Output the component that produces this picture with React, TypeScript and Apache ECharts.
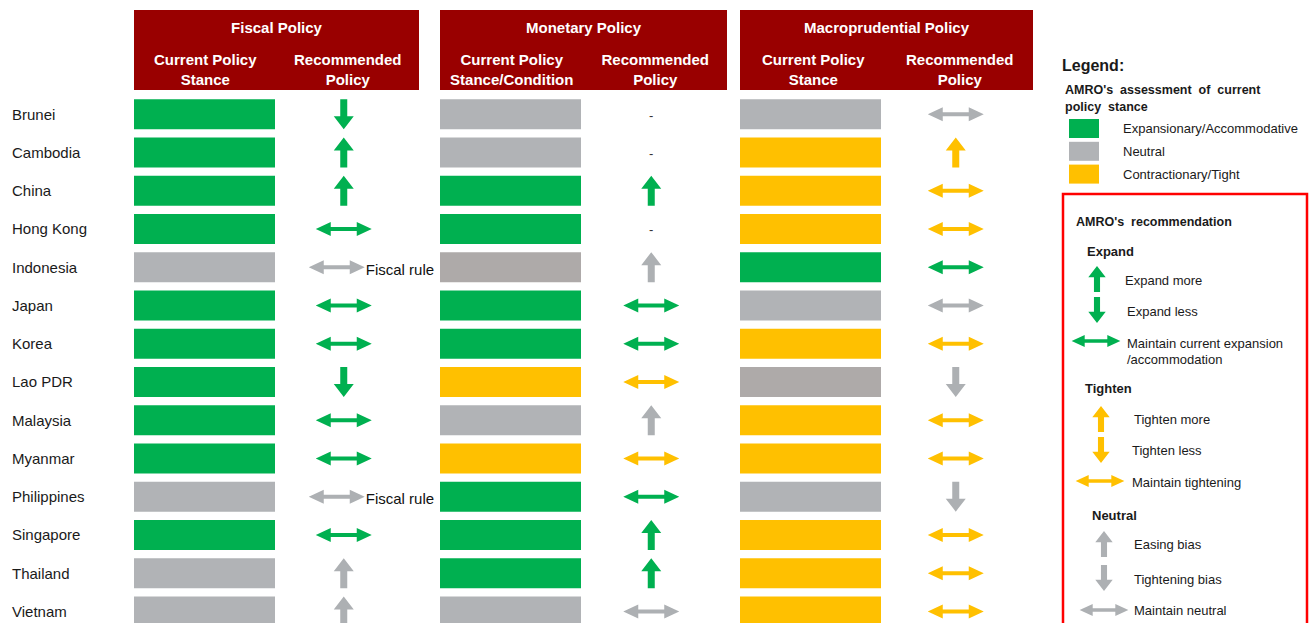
import React, { useEffect, useRef } from 'react';
import * as echarts from 'echarts';

const countries = ['Brunei', 'Cambodia', 'China', 'Hong Kong', 'Indonesia', 'Japan', 'Korea', 'Lao PDR', 'Malaysia', 'Myanmar', 'Philippines', 'Singapore', 'Thailand', 'Vietnam'];

// Stance codes: E = expansionary/accommodative, N = neutral, B = neutral (darker shade), T = contractionary/tight
const fiscalStance = ['E', 'E', 'E', 'E', 'N', 'E', 'E', 'E', 'E', 'E', 'N', 'E', 'N', 'N'];
const monetaryStance = ['N', 'N', 'E', 'E', 'B', 'E', 'E', 'T', 'N', 'T', 'E', 'E', 'E', 'N'];
const macroStance = ['N', 'T', 'T', 'T', 'E', 'N', 'T', 'B', 'T', 'T', 'N', 'T', 'T', 'T'];

// Recommendation codes: first letter = family (E expand, T tighten, N neutral), second: + up, - down, = maintain; '-' = none
const fiscalRec = ['E-', 'E+', 'E+', 'E=', 'N=', 'E=', 'E=', 'E-', 'E=', 'E=', 'N=', 'E=', 'N+', 'N+'];
const fiscalNote = ['', '', '', '', 'Fiscal rule', '', '', '', '', '', 'Fiscal rule', '', '', ''];
const monetaryRec = ['-', '-', 'E+', '-', 'N+', 'E=', 'E=', 'T=', 'N+', 'T=', 'E=', 'E+', 'E+', 'N='];
const macroRec = ['N=', 'T+', 'T=', 'T=', 'E=', 'N=', 'T=', 'N-', 'T=', 'T=', 'N-', 'T=', 'T=', 'T='];

const policyGroups = ['Fiscal Policy', 'Monetary Policy', 'Macroprudential Policy'];
const columnHeaders = [
  ['Current Policy\nStance', 'Recommended\nPolicy'],
  ['Current Policy\nStance/Condition', 'Recommended\nPolicy'],
  ['Current Policy\nStance', 'Recommended\nPolicy'],
];

const stanceLegend = [
  ['E', 'Expansionary/Accommodative'],
  ['N', 'Neutral'],
  ['T', 'Contractionary/Tight'],
];
const recLegendGroups = [
  { title: 'Expand', key: 'E', items: [['+', 'Expand more'], ['-', 'Expand less'], ['=', 'Maintain current expansion\n/accommodation']] },
  { title: 'Tighten', key: 'T', items: [['+', 'Tighten more'], ['-', 'Tighten less'], ['=', 'Maintain tightening']] },
  { title: 'Neutral', key: 'N', items: [['+', 'Easing bias'], ['-', 'Tightening bias'], ['=', 'Maintain neutral']] },
];

const FONT = '"Liberation Sans", Arial, sans-serif';
const HEADER_RED = '#990000';
const STANCE_COLORS: Record<string, string> = { E: '#00b050', N: '#b1b3b6', B: '#aeaaa9', T: '#ffc000' };
const ARROW_COLORS: Record<string, string> = { E: '#00b050', N: '#adb0b3', T: '#ffc000' };

const GRID_TOP = 95;
const ROW_H = 38.25;
const GRIDS = [
  { left: 134, width: 285 },
  { left: 440, width: 287 },
  { left: 740, width: 293 },
];

function arrowPoints(dir: string, cx: number, cy: number, s = 1): number[][] {
  if (dir === '=') {
    const L = 28 * s, hl = 15 * s, hw = 7 * s, st = 2 * s;
    return [
      [cx - L, cy], [cx - L + hl, cy - hw], [cx - L + hl, cy - st], [cx + L - hl, cy - st],
      [cx + L - hl, cy - hw], [cx + L, cy], [cx + L - hl, cy + hw], [cx + L - hl, cy + st],
      [cx - L + hl, cy + st], [cx - L + hl, cy + hw],
    ];
  }
  const H = 15 * s, hh = 13 * s, w = 10 * s, sw = 3.5 * s;
  const sgn = dir === '+' ? 1 : -1;
  const tip = cy - sgn * H;
  const base = cy + sgn * H;
  const neck = tip + sgn * hh;
  return [[cx, tip], [cx + w, neck], [cx + sw, neck], [cx + sw, base], [cx - sw, base], [cx - sw, neck], [cx - w, neck]];
}

function stanceSeries(gridIdx: number, stance: string[]) {
  return {
    type: 'custom',
    xAxisIndex: gridIdx,
    yAxisIndex: gridIdx,
    data: stance.map((_, i) => [0, i]),
    renderItem: (params: any, api: any) => {
      const c = api.coord([api.value(0), api.value(1)]);
      const sz = api.size([1, 1]);
      return {
        type: 'rect',
        shape: { x: c[0] - sz[0] / 2, y: c[1] - 15, width: 141, height: 30 },
        style: { fill: STANCE_COLORS[stance[params.dataIndex]] },
      };
    },
  };
}

function recSeries(gridIdx: number, rec: string[], notes?: string[]) {
  return {
    type: 'custom',
    xAxisIndex: gridIdx,
    yAxisIndex: gridIdx,
    data: rec.map((_, i) => [1, i]),
    renderItem: (params: any, api: any) => {
      const c = api.coord([api.value(0), api.value(1)]);
      const code = rec[params.dataIndex];
      const note = notes ? notes[params.dataIndex] : '';
      if (code === '-') {
        return {
          type: 'text',
          x: c[0] - 4,
          y: c[1] + 1,
          style: { text: '-', fill: '#333', fontSize: 13, fontFamily: FONT, align: 'center', verticalAlign: 'middle', textAlign: 'center', textVerticalAlign: 'middle' },
        };
      }
      const cx = c[0] - 4 - (note ? 7 : 0);
      const children: any[] = [
        { type: 'polygon', shape: { points: arrowPoints(code[1], cx, c[1]) }, style: { fill: ARROW_COLORS[code[0]] } },
      ];
      if (note) {
        children.push({
          type: 'text',
          x: cx + 29,
          y: c[1] + 2,
          style: { text: note, fill: '#111', fontSize: 15, fontFamily: FONT, align: 'left', verticalAlign: 'middle', textAlign: 'left', textVerticalAlign: 'middle' },
        });
      }
      return { type: 'group', children };
    },
  };
}

function txt(x: number, y: number, text: string, size: number, bold = false, fill = '#1a1a1a', align = 'left', lineHeight?: number): any {
  return {
    type: 'text',
    x,
    y,
    z: 20,
    style: {
      text,
      fill,
      fontSize: size,
      fontWeight: bold ? 'bold' : 'normal',
      fontFamily: FONT,
      lineHeight: lineHeight || size * 1.2,
      align,
      verticalAlign: 'middle',
      textAlign: align,
      textVerticalAlign: 'middle',
    },
  };
}

function buildGraphic() {
  const els: any[] = [];
  GRIDS.forEach((g, i) => {
    els.push({ type: 'rect', z: -10, shape: { x: g.left, y: 10, width: g.width, height: 80 }, style: { fill: HEADER_RED } });
    els.push(txt(g.left + g.width / 2, 27, policyGroups[i], 15, true, '#ffffff', 'center'));
  });

  // Legend
  els.push(txt(1062, 65, 'Legend:', 16, true));
  els.push(txt(1065, 90, "AMRO's  assessment  of  current", 12.5, true));
  els.push(txt(1065, 107, 'policy  stance', 12.5, true));
  stanceLegend.forEach(([k, label], i) => {
    const y = 119 + i * 22.8;
    els.push({ type: 'rect', shape: { x: 1069, y, width: 30, height: 19 }, style: { fill: STANCE_COLORS[k] } });
    els.push(txt(1123, y + 9.5, label, 13));
  });

  els.push({ type: 'rect', shape: { x: 1063, y: 194, width: 244, height: 460 }, style: { fill: 'none', stroke: '#ff0000', lineWidth: 2.5 } });
  els.push(txt(1076, 222, "AMRO's  recommendation", 12.5, true));

  const layout = [
    { title: [1087, 251], arrows: [[1097, 279], [1097, 310], [1096, 341]], texts: [[1125, 280], [1127, 311], [1127, 351]] },
    { title: [1085, 388], arrows: [[1101, 419], [1101, 450], [1100, 481]], texts: [[1134, 419], [1132, 450], [1132, 482]] },
    { title: [1092, 515], arrows: [[1104, 544], [1104, 578], [1104, 610]], texts: [[1134, 544], [1134, 579], [1134, 610]] },
  ];
  recLegendGroups.forEach((grp, gi) => {
    const L = layout[gi];
    els.push(txt(L.title[0], L.title[1], grp.title, 13, true));
    grp.items.forEach(([dir, label], ii) => {
      const [ax, ay] = L.arrows[ii];
      els.push({ type: 'polygon', shape: { points: arrowPoints(dir, ax, ay, 0.87) }, style: { fill: ARROW_COLORS[grp.key] } });
      const [tx, ty] = L.texts[ii];
      els.push(txt(tx, ty, label, 13, false, '#1a1a1a', 'left', 16));
    });
  });
  return els;
}

function buildOption() {
  const stances = [fiscalStance, monetaryStance, macroStance];
  const recs = [fiscalRec, monetaryRec, macroRec];
  return {
    animation: false,
    backgroundColor: '#ffffff',
    textStyle: { fontFamily: FONT },
    grid: GRIDS.map((g) => ({ left: g.left, width: g.width, top: GRID_TOP, height: ROW_H * countries.length, containLabel: false })),
    xAxis: GRIDS.map((_, i) => ({
      type: 'category',
      gridIndex: i,
      position: 'top',
      z: 10,
      data: columnHeaders[i],
      axisLine: { show: false },
      axisTick: { show: false },
      splitLine: { show: false },
      axisLabel: { color: '#ffffff', fontWeight: 'bold', fontSize: 15, lineHeight: 20, margin: 6, fontFamily: FONT, interval: 0 },
    })),
    yAxis: GRIDS.map((_, i) => ({
      type: 'category',
      gridIndex: i,
      inverse: true,
      data: countries,
      axisLine: { show: false },
      axisTick: { show: false },
      splitLine: { show: false },
      axisLabel: i === 0
        ? { show: true, align: 'left', margin: 122, fontSize: 15, color: '#1a1a1a', fontFamily: FONT, interval: 0 }
        : { show: false },
    })),
    series: [
      stanceSeries(0, stances[0]),
      recSeries(0, recs[0], fiscalNote),
      stanceSeries(1, stances[1]),
      recSeries(1, recs[1]),
      stanceSeries(2, stances[2]),
      recSeries(2, recs[2]),
    ],
    graphic: { elements: buildGraphic() },
  };
}

export default function App() {
  const ref = useRef<HTMLDivElement>(null);
  useEffect(() => {
    if (!ref.current) return;
    const chart = echarts.init(ref.current, null, { renderer: 'svg' });
    chart.setOption(buildOption() as any);
    return () => chart.dispose();
  }, []);
  return <div ref={ref} style={{ position: 'fixed', left: 0, top: 0, width: 1316, height: 650, background: '#ffffff' }} />;
}
